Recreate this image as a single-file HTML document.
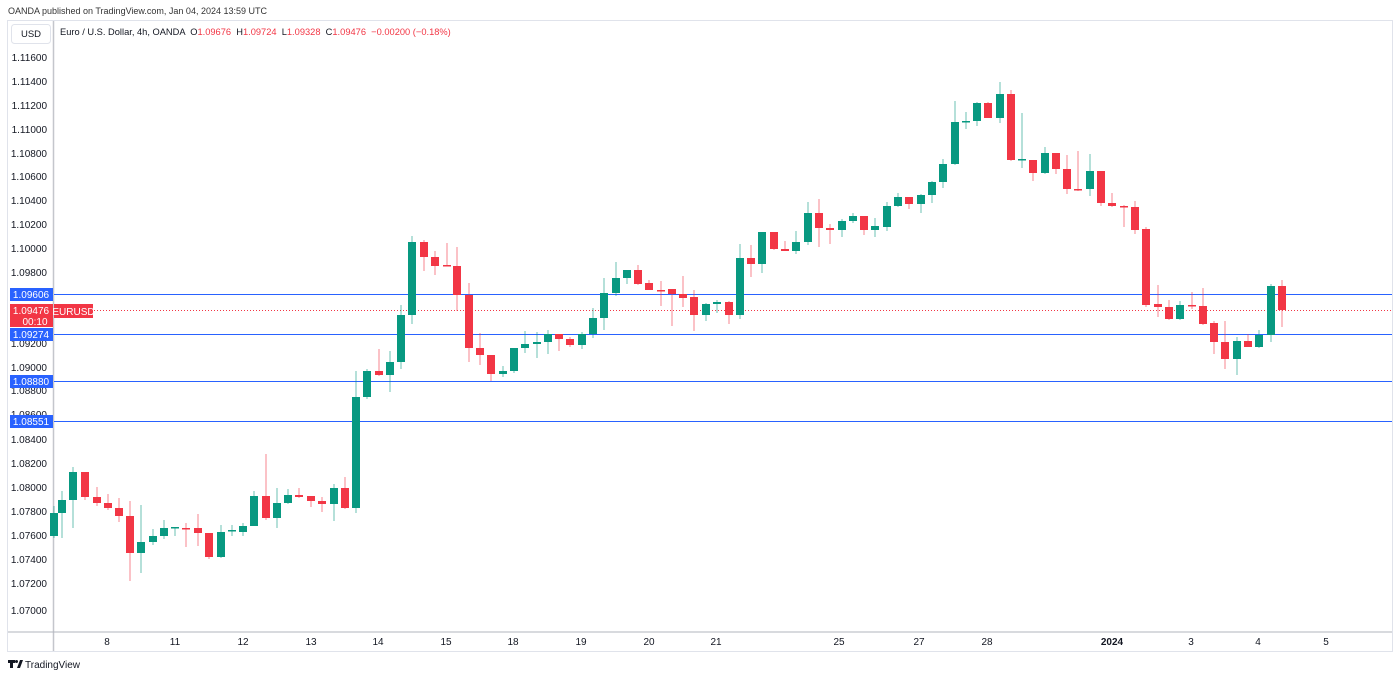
<!DOCTYPE html>
<html><head><meta charset="utf-8"><style>
html,body{margin:0;padding:0;background:#fff;width:1400px;height:679px;overflow:hidden}
svg{display:block;font-family:"Liberation Sans",sans-serif}
</style></head><body>
<svg id="s" width="1400" height="679" viewBox="0 0 1400 679" xmlns="http://www.w3.org/2000/svg">
<rect width="1400" height="679" fill="#fff"/>
<text x="8" y="14" font-size="9" fill="#333">OANDA published on TradingView.com, Jan 04, 2024 13:59 UTC</text>
<rect x="7.5" y="20.5" width="1385" height="631" fill="none" stroke="#e0e3eb"/>
<line x1="53.5" y1="21" x2="53.5" y2="651" stroke="#c4c6cc" stroke-width="1.5"/>
<line x1="8" y1="632" x2="1392" y2="632" stroke="#b2b5be" stroke-width="1"/>
<rect x="11.5" y="24.5" width="39" height="19" rx="3" fill="#fff" stroke="#e0e3eb"/>
<text x="31" y="37" font-size="9.5" fill="#131722" text-anchor="middle">USD</text>
<text x="60" y="35" font-size="9.3" fill="#131722" xml:space="preserve">Euro / U.S. Dollar, 4h, OANDA  O<tspan fill="#f23645">1.09676</tspan>  H<tspan fill="#f23645">1.09724</tspan>  L<tspan fill="#f23645">1.09328</tspan>  C<tspan fill="#f23645">1.09476</tspan>  <tspan fill="#f23645">−0.00200 (−0.18%)</tspan></text>
<g font-size="10" fill="#131722" text-anchor="end">
<text x="47" y="61">1.11600</text><text x="47" y="85">1.11400</text><text x="47" y="109">1.11200</text><text x="47" y="133">1.11000</text><text x="47" y="157">1.10800</text><text x="47" y="180">1.10600</text><text x="47" y="204">1.10400</text><text x="47" y="228">1.10200</text><text x="47" y="252">1.10000</text><text x="47" y="276">1.09800</text><text x="47" y="347">1.09200</text><text x="47" y="371">1.09000</text><text x="47" y="394">1.08800</text><text x="47" y="418">1.08600</text><text x="47" y="443">1.08400</text><text x="47" y="467">1.08200</text><text x="47" y="491">1.08000</text><text x="47" y="515">1.07800</text><text x="47" y="539">1.07600</text><text x="47" y="563">1.07400</text><text x="47" y="587">1.07200</text><text x="47" y="614">1.07000</text>
</g>
<g font-size="10" fill="#131722" text-anchor="middle">
<text x="107" y="645">8</text><text x="175" y="645">11</text><text x="243" y="645">12</text><text x="311" y="645">13</text><text x="378" y="645">14</text><text x="446" y="645">15</text><text x="513" y="645">18</text><text x="581" y="645">19</text><text x="649" y="645">20</text><text x="716" y="645">21</text><text x="839" y="645">25</text><text x="919" y="645">27</text><text x="987" y="645">28</text><text x="1112" y="645" font-weight="bold">2024</text><text x="1191" y="645">3</text><text x="1258" y="645">4</text><text x="1326" y="645">5</text>
</g>
<g stroke="#2962ff" stroke-width="1">
<line x1="54" y1="294.5" x2="1392" y2="294.5"/>
<line x1="54" y1="334.5" x2="1392" y2="334.5"/>
<line x1="54" y1="381.5" x2="1392" y2="381.5"/>
<line x1="54" y1="421.5" x2="1392" y2="421.5"/>
</g>
<line x1="94" y1="310.5" x2="1392" y2="310.5" stroke="#f23645" stroke-width="1" stroke-dasharray="1,2"/>
<g id="c"></g>
<g font-size="10" fill="#fff" text-anchor="middle">
<rect x="10" y="288" width="43" height="13" fill="#2962ff"/><text x="31" y="298">1.09606</text>
<rect x="10" y="304" width="43" height="23" fill="#f23645"/><text x="31" y="314">1.09476</text><text x="35" y="325">00:10</text>
<rect x="54" y="304" width="39" height="14" fill="#f23645"/><text x="73.5" y="315">EURUSD</text>
<rect x="10" y="328" width="43" height="13" fill="#2962ff"/><text x="31" y="338">1.09274</text>
<rect x="10" y="375" width="43" height="13" fill="#2962ff"/><text x="31" y="385">1.08880</text>
<rect x="10" y="415" width="43" height="13" fill="#2962ff"/><text x="31" y="425">1.08551</text>
</g>
<g fill="#131722"><rect x="8" y="660" width="7" height="3"/><rect x="10" y="660" width="3" height="8"/><circle cx="16.5" cy="661.5" r="1.5"/><path d="M17 668 L20 660 L23 660 L20 668Z"/></g>
<text x="25" y="668" font-size="10" fill="#131722">TradingView</text>
</svg>
<script>
var d=[[54,536,513,506,538],[62,513,500,491,538],[73,500,472,467,528],[85,472,497,472,500],[97,497,503,487,506],[108,503,508,494,510],[119,508,516,498,522],[130,516,553,501,581],[141,553,542,505,573],[153,542,536,529,545],[164,536,528,520,539],[175,528,527,527,536],[186,528,529,523,547],[198,528,533,514,546],[209,533,557,533,559],[221,557,532,525,558],[232,531,530,525,536],[243,532,526,523,536],[254,526,496,491,526],[266,496,518,454,520],[277,518,503,488,528],[288,503,495,489,504],[299,495,497,488,498],[311,496,501,496,507],[322,501,504,497,512],[334,504,488,484,521],[345,488,508,477,509],[356,508,397,371,513],[367,397,371,369,399],[379,371,375,349,376],[390,375,362,351,392],[401,362,315,305,369],[412,315,242,236,324],[424,242,257,240,271],[435,257,266,251,275],[447,265,266,243,266],[457,266,295,247,311],[469,295,348,283,362],[480,348,355,333,365],[491,355,374,355,381],[503,374,371,366,377],[514,371,348,348,373],[525,348,344,331,353],[537,344,342,332,358],[548,342,334,330,354],[559,334,339,334,351],[570,339,345,337,347],[582,345,334,332,349],[593,334,318,308,338],[604,318,293,278,330],[616,293,278,262,296],[627,278,270,270,284],[638,270,284,265,285],[649,283,290,280,290],[661,290,291,281,306],[672,289,294,289,326],[683,294,298,276,307],[694,297,315,290,331],[706,315,304,303,321],[717,304,302,300,313],[729,302,315,301,324],[740,315,258,244,319],[751,258,264,245,277],[762,264,232,232,273],[774,232,249,232,250],[785,249,251,241,251],[796,251,242,231,254],[808,242,213,202,245],[819,213,228,199,247],[830,228,230,224,244],[842,230,221,219,237],[853,221,216,213,223],[864,216,230,216,235],[875,230,226,218,237],[887,227,206,202,231],[898,206,197,193,207],[909,197,204,197,209],[921,204,195,194,213],[932,195,182,181,203],[943,182,164,159,188],[955,164,122,101,165],[966,122,121,112,129],[977,121,103,102,126],[988,103,118,102,118],[1000,118,94,82,123],[1011,94,160,90,161],[1022,160,159,113,168],[1033,160,173,160,181],[1045,173,153,147,174],[1056,153,169,153,174],[1067,169,189,155,194],[1078,189,190,151,191],[1090,189,171,154,196],[1101,171,203,171,206],[1112,203,206,193,207],[1124,206,207,205,227],[1135,207,230,201,234],[1146,229,305,227,307],[1158,304,307,285,317],[1169,307,319,300,320],[1180,319,305,301,320],[1192,305,306,292,309],[1203,306,324,288,325],[1214,323,342,321,354],[1225,342,359,321,369],[1237,359,341,337,375],[1248,341,347,334,347],[1259,347,335,330,348],[1271,335,286,284,342],[1282,286,310,280,327]];
var g=document.getElementById('c'),h='';
d.forEach(function(c){var x=c[0],o=c[1],cl=c[2],up=cl<=o,col=up?'#089981':'#f23645';
var t=Math.min(o,cl),b=Math.max(o,cl);if(b-t<1.5){b=t+1.5;}
h+='<line x1="'+x+'" x2="'+x+'" y1="'+c[3]+'" y2="'+c[4]+'" stroke="'+col+'" stroke-opacity="0.6" stroke-width="1"/>';
h+='<rect x="'+(x-4)+'" y="'+t+'" width="8" height="'+(b-t)+'" fill="'+col+'"/>';});
g.innerHTML=h;
</script>
</body></html>
